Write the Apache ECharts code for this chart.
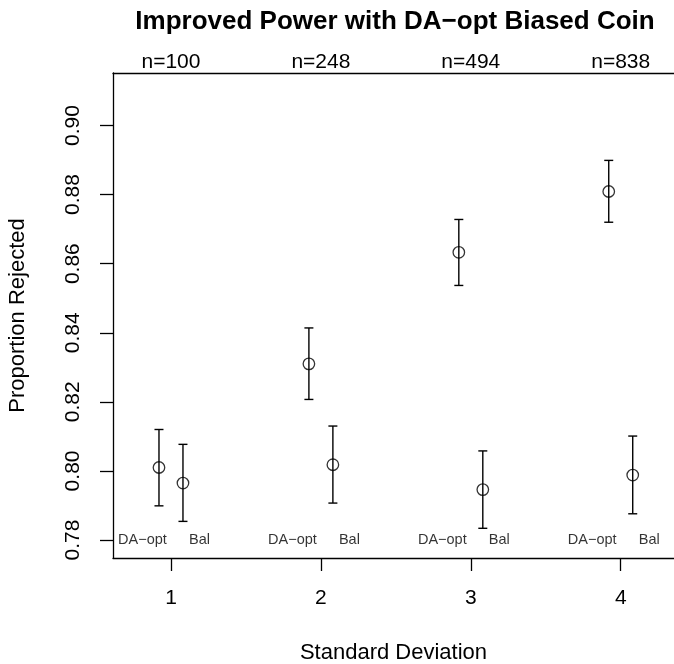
<!DOCTYPE html>
<html>
<head>
<meta charset="utf-8">
<script src="https://cdn.jsdelivr.net/npm/echarts@6/dist/echarts.min.js"></script>
<style>
  html, body { margin: 0; padding: 0; background: #fff; }
  #chart { width: 674px; height: 664px; }
</style>
</head>
<body>
<div id="chart"></div>
<script>
// Standard deviation levels and the sample size used at each level
const sdLevels = [1, 2, 3, 4];
const sampleSizes = [100, 248, 494, 838];

// Proportion of rejected null hypotheses with interval bounds
const daOptMean = [0.8010, 0.8310, 0.8633, 0.8809];
const daOptLow  = [0.7899, 0.8207, 0.8537, 0.8720];
const daOptHigh = [0.8120, 0.8414, 0.8728, 0.8899];

const balMean = [0.7965, 0.8018, 0.7946, 0.7988];
const balLow  = [0.7854, 0.7907, 0.7834, 0.7876];
const balHigh = [0.8077, 0.8130, 0.8058, 0.8101];

const groupNames = ['DA\u2212opt', 'Bal'];
const yTicks = [0.78, 0.80, 0.82, 0.84, 0.86, 0.88, 0.90];
const groupLabelLevel = 0.78;

// Layout and style constants; the plot box runs off the right edge of the page
const FONT = '"Liberation Sans", Arial, Helvetica, sans-serif';
const GRID = { left: 113, top: 73, right: 0, bottom: 106 };
const X_RANGE = [0.6133, 4.3553];
const Y_RANGE = [0.7748, 0.9152];
const DODGE = 0.08;        // horizontal offset of each design around its SD level
const LABEL_SHIFT = 0.19;  // offset of the design name labels
const TITLE_CENTER_X = 390;
const AXIS_LINE = { show: true, lineStyle: { color: '#000', width: 1.3 } };

const daOptX = sdLevels.map(v => v - DODGE);
const balX = sdLevels.map(v => v + DODGE);

function barData(xs, lo, hi) {
  return xs.map((x, i) => [x, lo[i], hi[i]]);
}
function pointData(xs, ys) {
  return xs.map((x, i) => [x, ys[i]]);
}

function renderErrorBar(params, api) {
  const x = api.value(0);
  const top = api.coord([x, api.value(2)]);
  const bot = api.coord([x, api.value(1)]);
  const cap = 4.5;
  const style = { stroke: '#000', lineWidth: 1.4, fill: null };
  return {
    type: 'group',
    children: [
      { type: 'line', shape: { x1: top[0], y1: top[1], x2: bot[0], y2: bot[1] }, style: style },
      { type: 'line', shape: { x1: top[0] - cap, y1: top[1], x2: top[0] + cap, y2: top[1] }, style: style },
      { type: 'line', shape: { x1: bot[0] - cap, y1: bot[1], x2: bot[0] + cap, y2: bot[1] }, style: style }
    ]
  };
}

const groupLabelData = [];
sdLevels.forEach(v => {
  groupLabelData.push({ value: [v - LABEL_SHIFT, groupLabelLevel], name: groupNames[0] });
  groupLabelData.push({ value: [v + LABEL_SHIFT, groupLabelLevel], name: groupNames[1] });
});

const pointStyle = { color: 'rgba(0,0,0,0)', borderColor: '#000', borderWidth: 1.3 };

const chart = echarts.init(document.getElementById('chart'), null, { renderer: 'canvas' });
chart.setOption({
  backgroundColor: '#fff',
  animation: false,
  textStyle: { fontFamily: FONT },
  title: {
    text: 'Improved Power with DA\u2212opt Biased Coin',
    left: TITLE_CENTER_X,
    top: 4,
    textAlign: 'center',
    textStyle: { fontFamily: FONT, fontSize: 26, fontWeight: 'bold', color: '#000' }
  },
  grid: {
    left: GRID.left, top: GRID.top, right: GRID.right, bottom: GRID.bottom,
    outerBoundsMode: 'none',
    containLabel: false,
    show: false
  },
  xAxis: [
    {
      type: 'value',
      min: X_RANGE[0], max: X_RANGE[1],
      name: 'Standard Deviation',
      nameLocation: 'middle',
      nameGap: 84,
      nameTextStyle: { fontFamily: FONT, fontSize: 22, color: '#000' },
      axisLine: AXIS_LINE,
      axisTick: { show: true, customValues: sdLevels, length: 13, lineStyle: { color: '#000', width: 1.3 } },
      axisLabel: { customValues: sdLevels, fontFamily: FONT, fontSize: 21, color: '#000', margin: 30 },
      splitLine: { show: false }
    },
    {
      type: 'value',
      position: 'top',
      min: X_RANGE[0], max: X_RANGE[1],
      axisLine: AXIS_LINE,
      axisTick: { show: false },
      axisLabel: {
        customValues: sdLevels,
        fontFamily: FONT, fontSize: 21, color: '#000', margin: 0,
        formatter: v => 'n=' + sampleSizes[sdLevels.indexOf(v)]
      },
      splitLine: { show: false }
    }
  ],
  yAxis: {
    type: 'value',
    min: Y_RANGE[0], max: Y_RANGE[1],
    name: 'Proportion Rejected',
    nameLocation: 'middle',
    nameGap: 84,
    nameRotate: 90,
    nameTextStyle: { fontFamily: FONT, fontSize: 22, color: '#000' },
    axisLine: AXIS_LINE,
    axisTick: { show: true, customValues: yTicks, length: 13, lineStyle: { color: '#000', width: 1.3 } },
    axisLabel: {
      customValues: yTicks, rotate: 90,
      fontFamily: FONT, fontSize: 21, color: '#000', margin: 29,
      formatter: v => v.toFixed(2)
    },
    splitLine: { show: false }
  },
  series: [
    {
      name: 'DA-opt interval', type: 'custom', renderItem: renderErrorBar,
      data: barData(daOptX, daOptLow, daOptHigh), encode: { x: 0, y: [1, 2] }, z: 2
    },
    {
      name: 'Bal interval', type: 'custom', renderItem: renderErrorBar,
      data: barData(balX, balLow, balHigh), encode: { x: 0, y: [1, 2] }, z: 2
    },
    {
      name: 'DA-opt', type: 'scatter', symbol: 'circle', symbolSize: 11.5,
      itemStyle: pointStyle, data: pointData(daOptX, daOptMean), z: 3
    },
    {
      name: 'Bal', type: 'scatter', symbol: 'circle', symbolSize: 11.5,
      itemStyle: pointStyle, data: pointData(balX, balMean), z: 3
    },
    {
      name: 'design labels', type: 'scatter', symbolSize: 0, silent: true,
      data: groupLabelData,
      label: {
        show: true, position: 'inside', formatter: p => p.name,
        fontFamily: FONT, fontSize: 14.5, color: '#000'
      }
    }
  ]
});
</script>
</body>
</html>
